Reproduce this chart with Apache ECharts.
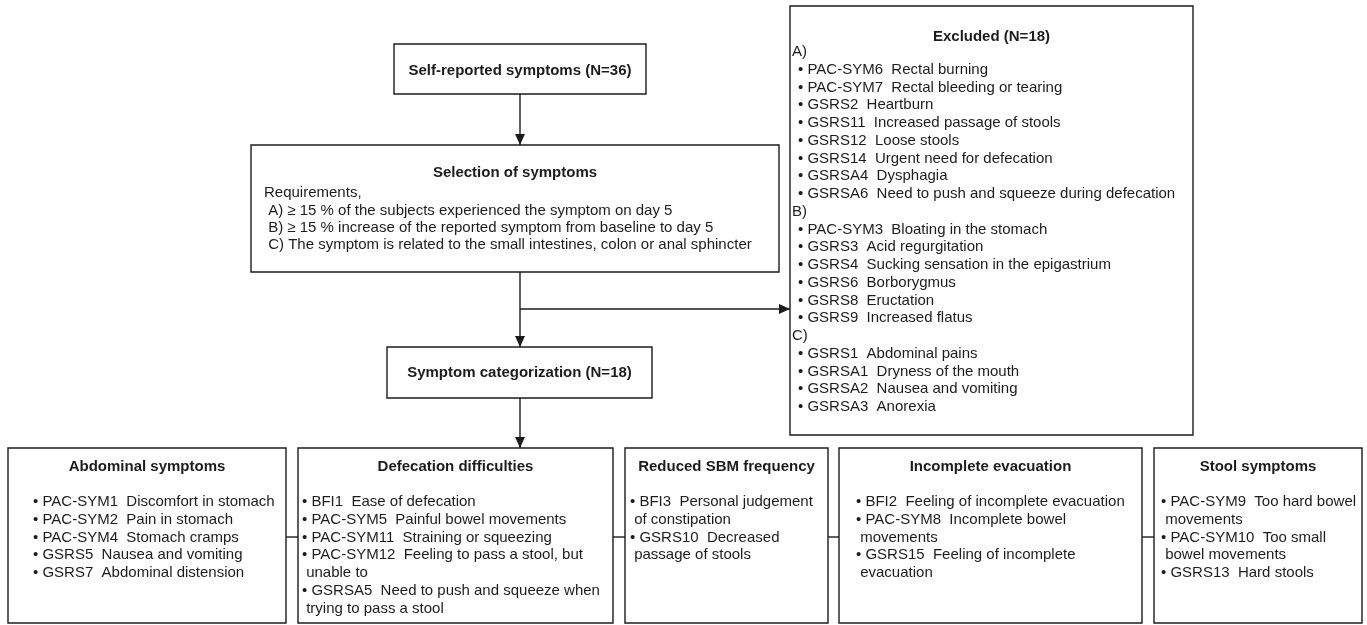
<!DOCTYPE html>
<html>
<head>
<meta charset="utf-8">
<script src="https://cdn.jsdelivr.net/npm/echarts@6/dist/echarts.min.js"></script>
<style>
  html, body { margin: 0; padding: 0; background: #fff; }
  #chart { width: 1367px; height: 625px; }
</style>
</head>
<body>
<div id="chart"></div>
<script>
// box texts
const selfTitle = 'Self-reported symptoms (N=36)';
const selectionTitle = 'Selection of symptoms';
const requirements = [
    'Requirements,',
    ' A) \u2265 15 % of the subjects experienced the symptom on day 5',
    ' B) \u2265 15 % increase of the reported symptom from baseline to day 5',
    ' C) The symptom is related to the small intestines, colon or anal sphincter'
];
const excludedTitle = 'Excluded (N=18)';
const excludedGroups = ['A)', 'B)', 'C)'];
const excludedA = [
    'PAC-SYM6  Rectal burning',
    'PAC-SYM7  Rectal bleeding or tearing',
    'GSRS2  Heartburn',
    'GSRS11  Increased passage of stools',
    'GSRS12  Loose stools',
    'GSRS14  Urgent need for defecation',
    'GSRSA4  Dysphagia',
    'GSRSA6  Need to push and squeeze during defecation'
];
const excludedB = [
    'PAC-SYM3  Bloating in the stomach',
    'GSRS3  Acid regurgitation',
    'GSRS4  Sucking sensation in the epigastrium',
    'GSRS6  Borborygmus',
    'GSRS8  Eructation',
    'GSRS9  Increased flatus'
];
const excludedC = [
    'GSRS1  Abdominal pains',
    'GSRSA1  Dryness of the mouth',
    'GSRSA2  Nausea and vomiting',
    'GSRSA3  Anorexia'
];
const categTitle = 'Symptom categorization (N=18)';
const categoryNames = [
    'Abdominal symptoms',
    'Defecation difficulties',
    'Reduced SBM frequency',
    'Incomplete evacuation',
    'Stool symptoms'
];
const abdominalItems = [
    'PAC-SYM1  Discomfort in stomach',
    'PAC-SYM2  Pain in stomach',
    'PAC-SYM4  Stomach cramps',
    'GSRS5  Nausea and vomiting',
    'GSRS7  Abdominal distension'
];
const defecationItems = [
    'BFI1  Ease of defecation',
    'PAC-SYM5  Painful bowel movements',
    'PAC-SYM11  Straining or squeezing',
    'PAC-SYM12  Feeling to pass a stool, but\nunable to',
    'GSRSA5  Need to push and squeeze when\ntrying to pass a stool'
];
const reducedItems = [
    'BFI3  Personal judgement\nof constipation',
    'GSRS10  Decreased\npassage of stools'
];
const incompleteItems = [
    'BFI2  Feeling of incomplete evacuation',
    'PAC-SYM8  Incomplete bowel\nmovements',
    'GSRS15  Feeling of incomplete\nevacuation'
];
const stoolItems = [
    'PAC-SYM9  Too hard bowel\nmovements',
    'PAC-SYM10  Too small\nbowel movements',
    'GSRS13  Hard stools'
];
const categoryItems = [abdominalItems, defecationItems, reducedItems, incompleteItems, stoolItems];

// layout
const FONT = '"Liberation Sans", Arial, sans-serif';
const LINE_H = 17.75;
const INK = '#1c1c1c';
const selfBox = { x: 394, y: 44, w: 252, h: 50 };
const selectionBox = { x: 251, y: 145, w: 528, h: 127 };
const excludedBox = { x: 790, y: 6, w: 403, h: 429 };
const categBox = { x: 387, y: 347, w: 265, h: 51 };
const bottomEdges = [[8, 286], [298, 613], [625, 828], [839, 1142], [1154, 1362]];
const bottomPad = [25, 4, 5, 17, 7];
const bottomTop = 448, bottomBottom = 623;
const branchY = 309;
const busY = 537;

const chart = echarts.init(document.getElementById('chart'));
const els = [];

function box(b) {
    els.push({
        type: 'rect',
        shape: { x: b.x, y: b.y, width: b.w, height: b.h },
        style: { fill: '#fff', stroke: INK, lineWidth: 1.4 }
    });
}

function text(str, x, y, opts) {
    opts = opts || {};
    els.push({
        type: 'text',
        x: x,
        y: y,
        style: {
            text: str,
            fill: INK,
            font: (opts.bold ? 'bold ' : '') + '15px ' + FONT,
            textAlign: opts.align || 'left',
            align: opts.align || 'left',
            textVerticalAlign: 'middle',
            verticalAlign: 'middle'
        }
    });
}

function line(points) {
    els.push({
        type: 'polyline',
        shape: { points: points },
        style: { stroke: INK, lineWidth: 1.4, fill: null }
    });
}

function arrow(x1, y1, x2, y2) {
    line([[x1, y1], [x2, y2]]);
    const ang = Math.atan2(y2 - y1, x2 - x1);
    const len = 11, half = 5;
    const bx = x2 - Math.cos(ang) * len, by = y2 - Math.sin(ang) * len;
    els.push({
        type: 'polygon',
        shape: {
            points: [
                [x2, y2],
                [bx + Math.sin(ang) * half, by - Math.cos(ang) * half],
                [bx - Math.sin(ang) * half, by + Math.cos(ang) * half]
            ]
        },
        style: { fill: INK }
    });
}

function bulletList(items, x, y0) {
    let row = 0;
    items.forEach(function (item) {
        item.split('\n').forEach(function (part, k) {
            text(k === 0 ? '\u2022 ' + part : ' ' + part, x, y0 + row * LINE_H);
            row++;
        });
    });
    return row;
}

// connectors
const midX = selfBox.x + selfBox.w / 2;
arrow(midX, selfBox.y + selfBox.h, midX, selectionBox.y);
arrow(midX, selectionBox.y + selectionBox.h, midX, categBox.y);
arrow(midX, branchY, excludedBox.x, branchY);
arrow(midX, categBox.y + categBox.h, midX, bottomTop);
for (let i = 0; i < bottomEdges.length - 1; i++) {
    line([[bottomEdges[i][1], busY], [bottomEdges[i + 1][0], busY]]);
}

// self-reported
box(selfBox);
text(selfTitle, midX, selfBox.y + 27, { bold: true, align: 'center' });

// selection
box(selectionBox);
text(selectionTitle, selectionBox.x + selectionBox.w / 2, 173, { bold: true, align: 'center' });
requirements.forEach(function (r, i) {
    text(r, selectionBox.x + 13, 193 + i * 17.4);
});

// excluded
box(excludedBox);
text(excludedTitle, excludedBox.x + excludedBox.w / 2, 37, { bold: true, align: 'center' });
let exRow = 0;
[excludedA, excludedB, excludedC].forEach(function (group, g) {
    text(excludedGroups[g], excludedBox.x + 2, 52 + exRow * LINE_H);
    exRow++;
    exRow += bulletList(group, excludedBox.x + 8, 52 + exRow * LINE_H);
});

// categorization
box(categBox);
text(categTitle, categBox.x + categBox.w / 2, categBox.y + 26, { bold: true, align: 'center' });

// bottom categories
bottomEdges.forEach(function (e, i) {
    const b = { x: e[0], y: bottomTop, w: e[1] - e[0], h: bottomBottom - bottomTop };
    box(b);
    text(categoryNames[i], b.x + b.w / 2, 467, { bold: true, align: 'center' });
    bulletList(categoryItems[i], b.x + bottomPad[i], 502);
});

chart.setOption({
    backgroundColor: '#fff',
    animation: false,
    graphic: { elements: els }
});
</script>
</body>
</html>
